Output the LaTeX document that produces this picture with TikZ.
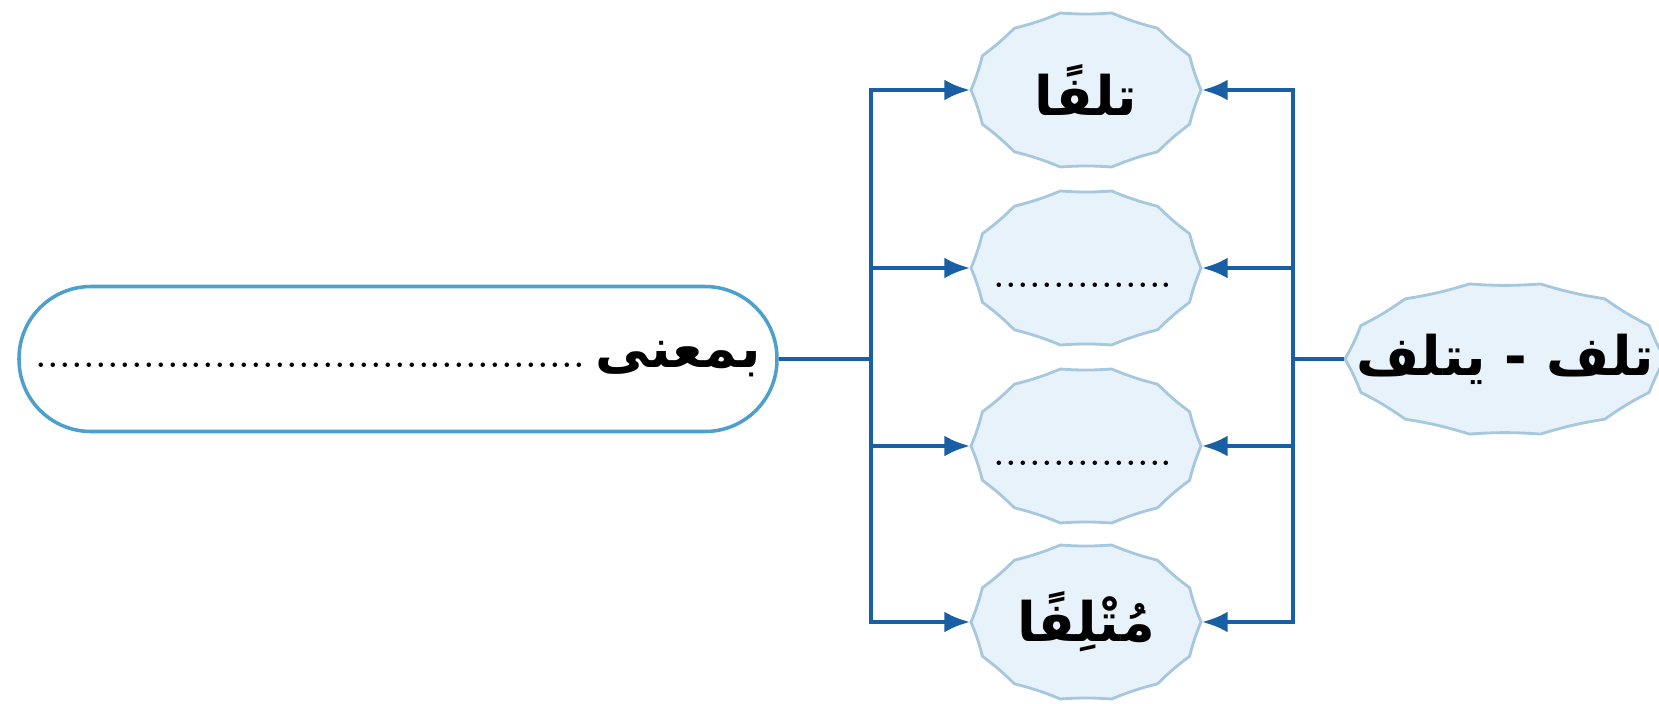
\documentclass[tikz,border=0pt]{standalone}
\usepackage{fontspec}
\newfontfamily\arabicfont[Script=Arabic]{DejaVu Sans}
\TeXXeTstate=1
\usepackage{tikz}
\usetikzlibrary{shapes.geometric,positioning,arrows.meta,backgrounds,calc}
\definecolor{linienblau}{RGB}{25,95,165}
\definecolor{wolkenblau}{RGB}{232,242,250}
\definecolor{randblau}{RGB}{165,200,222}
\definecolor{kastenrand}{RGB}{75,160,205}
\newcommand{\punkte}[1]{\hbox to #1{\leaders\hbox to 3.4pt{\hss.\hss}\hfill}}
\newcommand{\ar}[1]{{\arabicfont\bfseries\beginR #1\endR}}

\begin{document}
\begin{tikzpicture}[
x=1cm, y=1cm,
font=\fontsize{15.5}{19}\selectfont,
>={Latex[length=2.6mm,width=2.1mm]},   %Pfeilspitzen
feld/.style={rectangle, inner sep=0pt, minimum width=2.3cm, minimum height=1.58cm},
verbindung/.style={draw=linienblau, line width=1.3pt},
wolke/.style={fill=wolkenblau, draw=randblau, line width=0.8pt}
]
\useasboundingbox (0,0) rectangle (16.59,-7.04);

% Knoten in der Mitte
\node[feld] (t1) at (10.86,-0.90) {\ar{تلفًا}};
\node[feld] (t2) at (10.86,-2.68) {\vphantom{\ar{لف}}\punkte{1.85cm}};
\node[feld] (t3) at (10.86,-4.46) {\vphantom{\ar{لف}}\punkte{1.85cm}};
\node[feld] (t4) at (10.86,-6.22) {\ar{مُتْلِفًا}};

% Knoten rechts
\node[feld, minimum width=3.2cm, minimum height=1.54cm] (quelle) at (15.05,-3.59) {\ar{تلف - يتلف}};

% Kasten links
\node[draw=kastenrand, line width=1pt, fill=white, rounded corners=0.72cm,
      minimum width=7.58cm, minimum height=1.45cm] (bedeutung) at (3.98,-3.59)
      {\punkte{5.6cm}\ar{بمعنى}};

% Umrisse
\begin{scope}[on background layer]
\foreach \n/\rx/\ry in {t1/1.15/0.79, t2/1.15/0.79, t3/1.15/0.79, t4/1.15/0.79, quelle/1.6/0.77}
  \draw[wolke] ($(\n.center)+(0:\rx cm and \ry cm)$)
    \foreach \k in {1,...,14} { to[bend left=4] ($(\n.center)+({\k*360/14}:\rx cm and \ry cm)$) } -- cycle;
\end{scope}

% Linien
\coordinate (lb) at (8.71,-3.59);
\coordinate (rb) at (12.93,-3.59);
\draw[verbindung] (bedeutung.east) -- (lb);
\foreach \i in {1,...,4}
\draw[verbindung,->] (lb) |- (t\i.west);
\draw[verbindung] (quelle.west) -- (rb);
\foreach \i in {1,...,4}
\draw[verbindung,->] (rb) |- (t\i.east);
\end{tikzpicture}
\end{document}
